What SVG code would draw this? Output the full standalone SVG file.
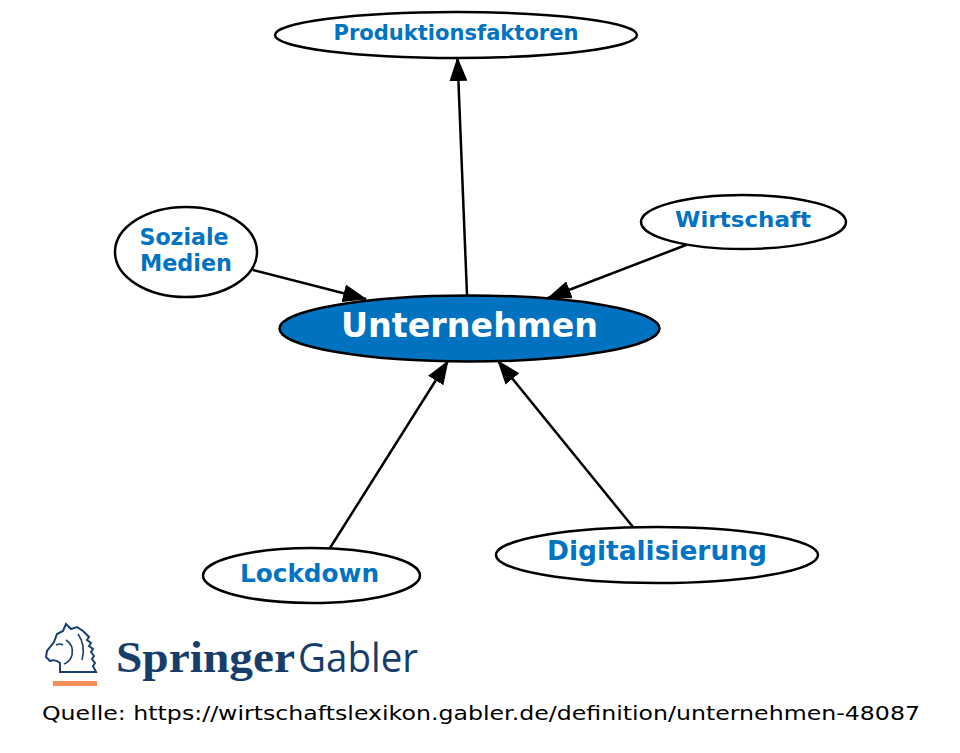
<svg xmlns="http://www.w3.org/2000/svg" width="960" height="753" viewBox="0 0 960 753">
<style>
.node ellipse{fill:#fff;stroke:#000;stroke-width:2.5}
.lbl{font-family:"DejaVu Sans","Liberation Sans",sans-serif;font-weight:bold;fill:#0073C2;text-anchor:middle}
.edge{stroke:#000;stroke-width:2.5;fill:none;marker-end:url(#arr)}
</style>
<defs>
<marker id="arr" markerUnits="userSpaceOnUse" markerWidth="24" markerHeight="18" refX="23" refY="9" orient="auto">
<path d="M0,0 L24,9 L0,18 z" fill="#000"/>
</marker>
</defs>
<rect width="960" height="753" fill="#fff"/>
<g id="connectors">
<line class="edge" x1="467" y1="295" x2="457.5" y2="58"/>
<line class="edge" x1="253" y1="270" x2="366" y2="299"/>
<line class="edge" x1="686" y1="245" x2="548" y2="298"/>
<line class="edge" x1="330" y1="548" x2="448" y2="361"/>
<line class="edge" x1="633" y1="527" x2="498" y2="361"/>
</g>
<g id="n-unternehmen" class="node">
<ellipse cx="469.5" cy="328.5" rx="190" ry="33" style="fill:#0072C0"/>
<text x="469.5" y="337" class="lbl" style="fill:#fff;font-size:33px" textLength="257" lengthAdjust="spacingAndGlyphs">Unternehmen</text>
</g>
<g id="n-produktionsfaktoren" class="node">
<ellipse cx="456" cy="35" rx="181" ry="23"/>
<text x="456" y="40" class="lbl" style="font-size:21px" textLength="245" lengthAdjust="spacingAndGlyphs">Produktionsfaktoren</text>
</g>
<g id="n-wirtschaft" class="node">
<ellipse cx="743.5" cy="222" rx="102.5" ry="27"/>
<text x="743" y="227" class="lbl" style="font-size:22px" textLength="136" lengthAdjust="spacingAndGlyphs">Wirtschaft</text>
</g>
<g id="n-soziale" class="node">
<ellipse cx="186" cy="252" rx="71" ry="45"/>
<text x="184" y="245" class="lbl" style="font-size:23px" textLength="89" lengthAdjust="spacingAndGlyphs">Soziale</text>
<text x="186" y="271" class="lbl" style="font-size:23px" textLength="92" lengthAdjust="spacingAndGlyphs">Medien</text>
</g>
<g id="n-lockdown" class="node">
<ellipse cx="311.5" cy="575.5" rx="108.5" ry="27.5"/>
<text x="309.5" y="582" class="lbl" style="font-size:25px" textLength="139" lengthAdjust="spacingAndGlyphs">Lockdown</text>
</g>
<g id="n-digitalisierung" class="node">
<ellipse cx="657" cy="555" rx="161" ry="28"/>
<text x="657" y="560" class="lbl" style="font-size:26px" textLength="220" lengthAdjust="spacingAndGlyphs">Digitalisierung</text>
</g>
<g id="logo">
<path d="M60,672 L60,663 Q55,659 50,661 L46,657 L47,651 L54,642 L57,634 L63,631 L66,624 L71,629 L77,627 L83,631 L86,634 L89,637 L87,640 L91,643 L89,646 L93,649 L91,652 L94,656 L92,659 L95,663 L93,666 L96,672 Z" fill="none" stroke="#1b3f6e" stroke-width="2"/>
<path d="M56,645 Q60,643 63,645 M66,640 Q74,645 72,655 Q70,662 64,664 M78,634 Q86,645 82,660" fill="none" stroke="#1b3f6e" stroke-width="1.6"/>
<rect x="53" y="681" width="44" height="5" fill="#F58F5A"/>
<text x="116" y="672" style="font-family:'Liberation Serif',serif;font-weight:bold;font-size:45px;fill:#173d6b" textLength="179" lengthAdjust="spacingAndGlyphs">Springer</text>
<text x="298" y="672" style="font-family:'Open Sans','Liberation Sans',sans-serif;font-size:41px;fill:#173d6b" textLength="120" lengthAdjust="spacingAndGlyphs">Gabler</text>
</g>
<text x="42" y="720" style="font-family:'DejaVu Sans','Liberation Sans',sans-serif;font-size:20px;fill:#000" textLength="878" lengthAdjust="spacingAndGlyphs">Quelle: https://wirtschaftslexikon.gabler.de/definition/unternehmen-48087</text>
</svg>
